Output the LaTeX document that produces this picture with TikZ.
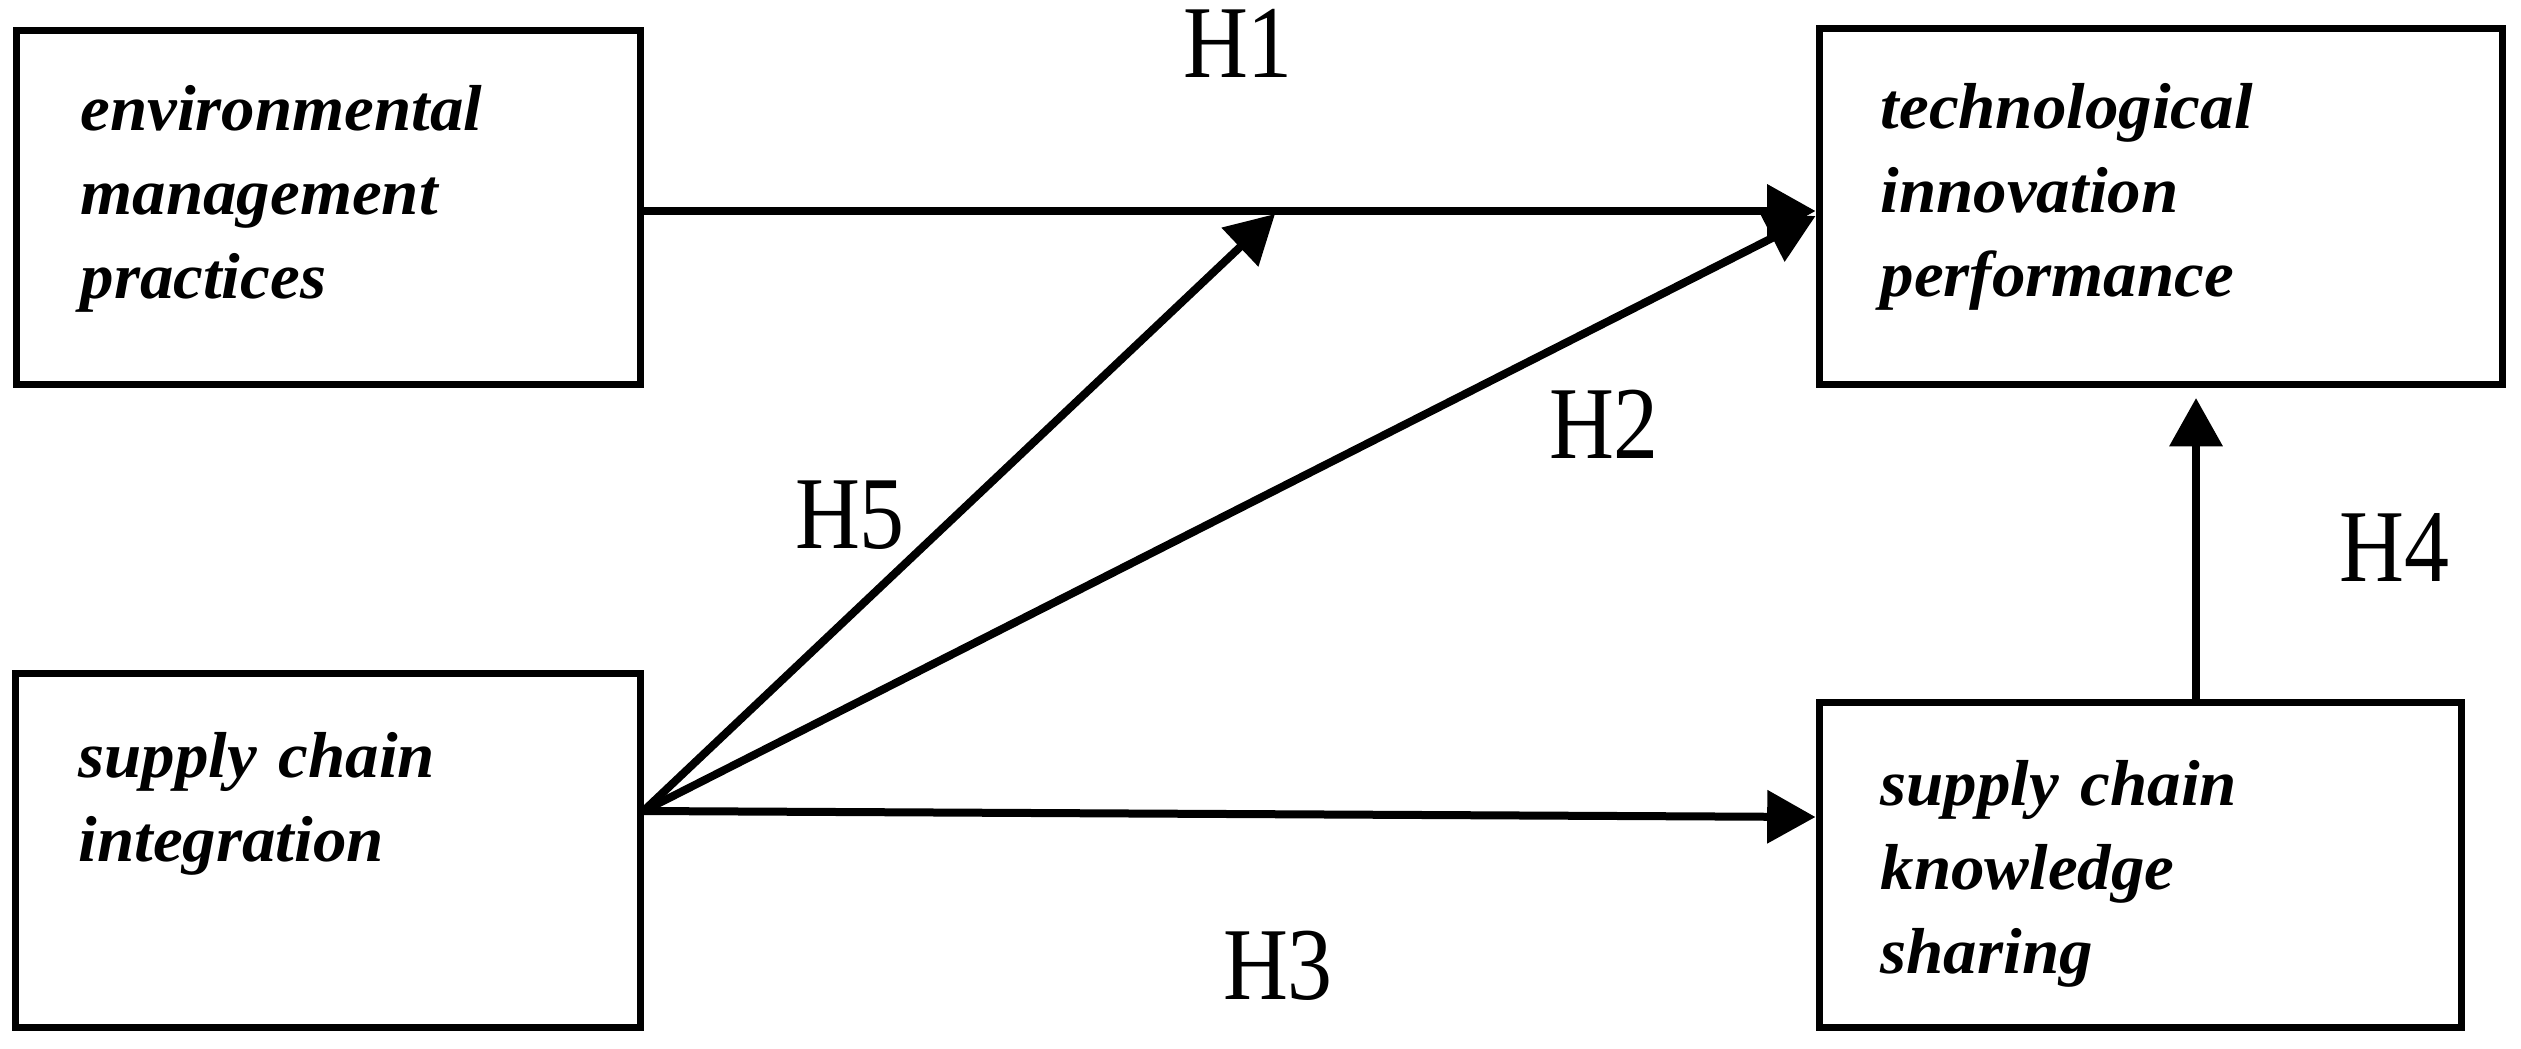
\documentclass[tikz,border=0pt]{standalone}
\usepackage{fontspec}
\setmainfont{Liberation Serif}
\newfontfamily\boxfont[FakeStretch=1.03]{Liberation Serif}
\newfontfamily\labfont[FakeStretch=0.87]{Liberation Serif}
\usetikzlibrary{arrows.meta}
\tikzset{
  box/.style={draw, line width=2.1pt, rectangle, inner sep=0pt},
  boxtext/.style={anchor=base west, inner sep=0pt, align=left, text width=200pt,
    font=\boxfont\bfseries\itshape\fontsize{19.5}{25.2}\selectfont},
  lab/.style={anchor=base, inner sep=0pt, font=\labfont\fontsize{31}{37}\selectfont},
  arr/.style={line width=2.4pt, -{Triangle[length=14.5pt,width=15.5pt]}}
}
\begin{document}
\begin{tikzpicture}[x=0.3pt,y=-0.3pt]
\useasboundingbox (0,0) rectangle (2521,1048);
% boxes
\node[box, minimum width=187.2pt, minimum height=106.2pt] (emp) at (328,207) {};
\node[box, minimum width=204.9pt, minimum height=106.8pt] (tip) at (2160.5,206) {};
\node[box, minimum width=187.5pt, minimum height=106.2pt] (sci) at (327.5,850) {};
\node[box, minimum width=192.6pt, minimum height=97.5pt] (scks) at (2140,864.5) {};
% texts
\node[boxtext] (emptxt) at (80,130) {environmental\\management\\practices};
\node[boxtext] (tiptxt) at (1880,128) {technological\\innovation\\performance};
\node[boxtext] (scitxt) at (78,777) {supply chain\\integration};
\node[boxtext] (scksxt) at (1880,805) {supply chain\\knowledge\\sharing};
% coordinates
\coordinate (h1y) at (0,211);
\coordinate (h2y) at (0,216);
\coordinate (h3y) at (0,817);
\coordinate (srcy) at (0,811);
\coordinate (src) at (sci.east |- srcy);
\coordinate (h5tip) at (1275,214);
\coordinate (h4tip) at (2196,398);
% arrows
\draw[arr] (emp.east |- h1y) -- (tip.west |- h1y);
\draw[arr] (src) -- (tip.west |- h2y);
\draw[arr] (src) -- (scks.west |- h3y);
\draw[arr] (src) -- (h5tip);
\draw[arr] (h4tip |- scks.north) -- (h4tip);
% labels
\node[lab] (lh1) at (1238,77) {H1};
\node[lab] (lh2) at (1604,458) {H2};
\node[lab] (lh3) at (1278,999) {H3};
\node[lab] (lh4) at (2394,581) {H4};
\node[lab] (lh5) at (850,548) {H5};
\end{tikzpicture}
\end{document}
